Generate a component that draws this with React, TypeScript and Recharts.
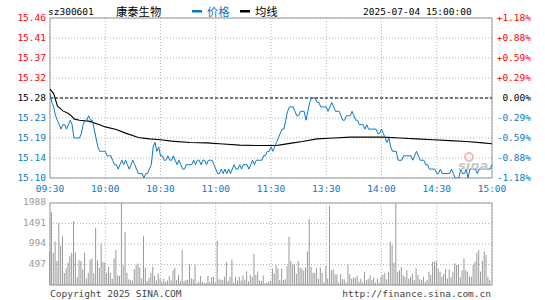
import { Bar, CartesianGrid, ComposedChart, Line, ReferenceArea, ReferenceLine, XAxis, YAxis } from 'recharts';

// --- data ---
const prevClose = 15.28;

const timeTicks = [0, 30, 60, 90, 120, 150, 180, 210, 240];
const timeLabels = ['09:30', '10:00', '10:30', '11:00', '11:30', '13:30', '14:00', '14:30', '15:00'];

const priceTicks = [15.1, 15.145, 15.19, 15.235, 15.28, 15.325, 15.37, 15.415, 15.46];
const priceTickLabels = ['15.10', '15.14', '15.19', '15.23', '15.28', '15.32', '15.37', '15.41', '15.46'];
const pctTickLabels = ['-1.18%', '-0.88%', '-0.59%', '-0.29%', '0.00%', '+0.29%', '+0.59%', '+0.88%', '+1.18%'];

const volTicks = [0, 497, 994, 1491, 1988];
const volTickLabels = ['', '497', '994', '1491', '1988'];

// 09:30 .. 11:30 (121 minutes)
const amPrices = [
  15.29, 15.27, 15.26, 15.24, 15.23, 15.22, 15.21, 15.22, 15.22, 15.21,
  15.22, 15.23, 15.22, 15.19, 15.19, 15.19, 15.19, 15.2, 15.22, 15.23,
  15.23, 15.24, 15.23, 15.23, 15.21, 15.19, 15.17, 15.16, 15.16, 15.16,
  15.16, 15.15, 15.15, 15.15, 15.14, 15.13, 15.13, 15.12, 15.13, 15.14,
  15.13, 15.14, 15.13, 15.12, 15.13, 15.14, 15.13, 15.12, 15.11, 15.11,
  15.11, 15.1, 15.11, 15.11, 15.12, 15.13, 15.17, 15.18, 15.16, 15.17,
  15.15, 15.15, 15.14, 15.14, 15.15, 15.14, 15.14, 15.15, 15.14, 15.13,
  15.14, 15.13, 15.12, 15.12, 15.13, 15.13, 15.13, 15.13, 15.14, 15.13,
  15.14, 15.14, 15.13, 15.14, 15.14, 15.13, 15.14, 15.14, 15.14, 15.13,
  15.12, 15.11, 15.11, 15.12, 15.11, 15.12, 15.11, 15.12, 15.11, 15.12,
  15.13, 15.12, 15.12, 15.13, 15.12, 15.13, 15.13, 15.13, 15.12, 15.13,
  15.14, 15.13, 15.14, 15.14, 15.14, 15.14, 15.15, 15.15, 15.16, 15.16,
  15.17,
];

// 13:01 .. 15:00 (120 minutes)
const pmPrices = [
  15.16, 15.17, 15.18, 15.19, 15.2, 15.21, 15.21, 15.23, 15.25, 15.26,
  15.26, 15.26, 15.25, 15.24, 15.24, 15.25, 15.25, 15.25, 15.23, 15.25,
  15.27, 15.28, 15.28, 15.28, 15.27, 15.27, 15.26, 15.26, 15.26, 15.26,
  15.25, 15.26, 15.27, 15.26, 15.25, 15.25, 15.25, 15.24, 15.23, 15.23,
  15.24, 15.24, 15.24, 15.25, 15.24, 15.23, 15.23, 15.22, 15.22, 15.22,
  15.21, 15.22, 15.21, 15.21, 15.21, 15.21, 15.21, 15.2, 15.2, 15.21,
  15.2, 15.19, 15.18, 15.19, 15.17, 15.16, 15.16, 15.16, 15.14, 15.14,
  15.14, 15.15, 15.15, 15.15, 15.15, 15.15, 15.14, 15.15, 15.16, 15.15,
  15.14, 15.14, 15.14, 15.13, 15.13, 15.12, 15.12, 15.12, 15.12, 15.11,
  15.11, 15.12, 15.11, 15.11, 15.11, 15.11, 15.11, 15.12, 15.11, 15.1,
  15.1, 15.1, 15.12, 15.11, 15.11, 15.12, 15.1, 15.12, 15.12, 15.12,
  15.12, 15.11, 15.12, 15.12, 15.12, 15.12, 15.12, 15.12, 15.12, 15.13,
];

// average line, read at these minute indexes
const avgIdx = [0, 2, 4, 7, 10, 12, 13, 16, 21, 27, 30, 36, 41, 48, 54, 60, 66, 76, 85, 94, 103, 112, 120,
  123, 126, 132, 137, 145, 154, 163, 172, 181, 190, 199, 208, 217, 226, 235, 240];
const avgVals = [15.3, 15.29, 15.262, 15.251, 15.245, 15.238, 15.233, 15.23, 15.228, 15.22, 15.215, 15.209,
  15.201, 15.191, 15.188, 15.186, 15.183, 15.18, 15.179, 15.1765, 15.174, 15.173, 15.173,
  15.173, 15.175, 15.179, 15.182, 15.188, 15.19, 15.192, 15.192, 15.192, 15.19, 15.188, 15.186,
  15.184, 15.182, 15.179, 15.177];

const amVolume = [
  800, 1760, 780, 1060, 580, 1500, 960, 1180, 290, 400,
  540, 700, 780, 1550, 790, 190, 600, 580, 380, 780,
  160, 300, 610, 640, 280, 1380, 600, 420, 1010, 550,
  550, 300, 440, 300, 150, 640, 850, 230, 220, 1988,
  470, 1290, 300, 140, 120, 110, 380, 490, 520, 420,
  160, 1180, 420, 100, 170, 300, 440, 220, 110, 280,
  150, 80, 150, 80, 110, 220, 110, 360, 420, 120,
  240, 100, 850, 90, 120, 130, 500, 160, 140, 500,
  40, 80, 220, 80, 40, 60, 220, 70, 190, 200,
  60, 1070, 140, 130, 130, 200, 560, 100, 200, 620,
  60, 200, 110, 200, 110, 230, 130, 330, 90, 250,
  200, 760, 240, 330, 110, 100, 230, 40, 60, 80,
  100,
];

const pmVolume = [
  400, 280, 480, 400, 120, 400, 120, 140, 460, 1170,
  580, 500, 500, 270, 580, 420, 400, 350, 430, 810,
  1600, 440, 300, 300, 420, 150, 430, 300, 60, 460,
  150, 1915, 360, 380, 260, 260, 60, 260, 140, 140,
  60, 500, 260, 150, 180, 180, 230, 80, 150, 60,
  320, 120, 150, 230, 120, 190, 60, 150, 60, 200,
  240, 300, 140, 320, 1050, 970, 540, 1988, 320, 360,
  440, 240, 200, 360, 150, 200, 270, 120, 400, 240,
  140, 120, 200, 80, 120, 320, 240, 565, 565, 580,
  400, 320, 200, 260, 380, 160, 380, 190, 320, 525,
  485, 485, 190, 350, 650, 360, 320, 200, 200, 485,
  565, 785, 850, 320, 590, 810, 730, 200, 120, 0,
];

const prices = [...amPrices, ...pmPrices];
const volumes = [...amVolume, ...pmVolume];
const rows = prices.map((p, i) => {
  const k = avgIdx.indexOf(i);
  return { i, price: p, avg: k >= 0 ? avgVals[k] : null, vol: volumes[i] };
});

const RED = '#ff0000';
const BLUE = '#0a78c8';
const GRAY = '#999999';
const GRID = '#b4b4b4';
const MONO = '"DejaVu Sans Mono", "Liberation Mono", monospace';
const CJK = '"Noto Sans CJK SC", sans-serif';
const FS = 9.5;

function colorFor(v: number) {
  if (v > prevClose + 1e-6) return RED;
  if (v < prevClose - 1e-6) return BLUE;
  return '#000';
}

const PriceTick = (props: any) => {
  const v = props.payload.value;
  const k = priceTicks.findIndex((t) => Math.abs(t - v) < 1e-6);
  return (
    <text x={46} y={props.y - 1} textAnchor="end" dominantBaseline="central" fontSize={FS} fontFamily={MONO} fill={colorFor(v)}>
      {priceTickLabels[k]}
    </text>
  );
};

const PctTick = (props: any) => {
  const v = props.payload.value;
  const k = priceTicks.findIndex((t) => Math.abs(t - v) < 1e-6);
  return (
    <text x={531} y={props.y - 1} textAnchor="end" dominantBaseline="central" fontSize={FS} fontFamily={MONO} fill={colorFor(v)}>
      {pctTickLabels[k]}
    </text>
  );
};

const TimeTick = (props: any) => {
  const k = timeTicks.indexOf(props.payload.value);
  return (
    <text x={props.x} y={188} textAnchor="middle" dominantBaseline="central" fontSize={FS} fontFamily={MONO} fill={BLUE}>
      {timeLabels[k]}
    </text>
  );
};

const VolTick = (props: any) => {
  const k = volTicks.indexOf(props.payload.value);
  return (
    <text x={46} y={props.y - 1.5} textAnchor="end" dominantBaseline="central" fontSize={FS} fontFamily={MONO} fill={GRAY}>
      {volTickLabels[k]}
    </text>
  );
};

export default function App() {
  return (
    <div style={{ position: 'absolute', left: 0, top: 0, width: 545, height: 300, background: '#fff' }}>
      <div style={{ position: 'absolute', left: 0, top: 0 }}>
        <ComposedChart width={545} height={200} data={rows} margin={{ top: 18, right: 0, bottom: 0, left: 0 }}>
          <CartesianGrid yAxisId="p" stroke={GRID} strokeDasharray="1 2" />
          <XAxis dataKey="i" type="number" domain={[0, 240]} ticks={timeTicks} interval={0} height={22}
            axisLine={false} tickLine={false} tick={<TimeTick />} />
          <YAxis yAxisId="p" domain={[15.1, 15.46]} ticks={priceTicks} interval={0} width={50}
            axisLine={false} tickLine={false} tick={<PriceTick />} allowDataOverflow />
          <YAxis yAxisId="pct" orientation="right" domain={[15.1, 15.46]} ticks={priceTicks} interval={0} width={53}
            axisLine={false} tickLine={false} tick={<PctTick />} allowDataOverflow />
          <ReferenceLine yAxisId="p" y={prevClose} stroke="#000" strokeDasharray="3 2" />
          <Line yAxisId="p" dataKey="avg" stroke="#000" strokeWidth={1.1} dot={false} connectNulls isAnimationActive={false} />
          <Line yAxisId="p" dataKey="price" stroke={BLUE} strokeWidth={1} dot={false} isAnimationActive={false} />
          <ReferenceArea yAxisId="p" x1={0} x2={240} y1={15.1} y2={15.46} fill="none" stroke={GRAY} strokeWidth={1} />
        </ComposedChart>
      </div>
      <div style={{ position: 'absolute', left: 0, top: 190 }}>
        <ComposedChart width={545} height={110} data={rows} margin={{ top: 13, right: 53, bottom: 15, left: 0 }}>
          <CartesianGrid stroke={GRID} strokeDasharray="1 2" verticalPoints={timeTicks.map((t) => 50 + (t / 240) * 442)} />
          <XAxis dataKey="i" type="number" domain={[0, 240]} ticks={timeTicks} hide />
          <YAxis domain={[0, 1988]} ticks={volTicks} interval={0} width={50} axisLine={false} tickLine={false} tick={<VolTick />} />
          <Bar dataKey="vol" fill={GRAY} barSize={1} isAnimationActive={false} />
          <ReferenceArea x1={0} x2={240} y1={0} y2={1988} fill="none" stroke={GRAY} strokeWidth={1} />
        </ComposedChart>
      </div>
      <svg width={545} height={300} style={{ position: 'absolute', left: 0, top: 0, pointerEvents: 'none' }}>
        <text x={48} y={11} dominantBaseline="central" fontSize={FS} fontFamily={MONO} fill="#000">sz300601</text>
        <text x={116} y={11} dominantBaseline="central" fontSize={11.3} fontFamily={CJK} fill="#000">康泰生物</text>
        <rect x={192} y={10} width={10} height={2.5} fill={BLUE} />
        <text x={207} y={11} dominantBaseline="central" fontSize={11.3} fontFamily={CJK} fill={BLUE}>价格</text>
        <rect x={240} y={10} width={10} height={2.5} fill="#000" />
        <text x={255} y={11} dominantBaseline="central" fontSize={11.3} fontFamily={CJK} fill="#000">均线</text>
        <text x={363} y={11} dominantBaseline="central" fontSize={FS} fontFamily={MONO} fill="#000">2025-07-04 15:00:00</text>
        <circle cx={469} cy={157} r={4} fill="none" stroke="#f2b8b8" strokeWidth={2} />
        <text x={458} y={170} fontSize={13} fontWeight="bold" fontStyle="italic" fontFamily="'DejaVu Sans', sans-serif" fill="#c8c8c8">sina</text>
        <text x={50} y={293} dominantBaseline="central" fontSize={FS} fontFamily={MONO} fill="#444">Copyright 2025 SINA.COM</text>
        <text x={491} y={293} textAnchor="end" dominantBaseline="central" fontSize={FS} fontFamily={MONO} fill="#444">http://finance.sina.com.cn</text>
      </svg>
    </div>
  );
}
